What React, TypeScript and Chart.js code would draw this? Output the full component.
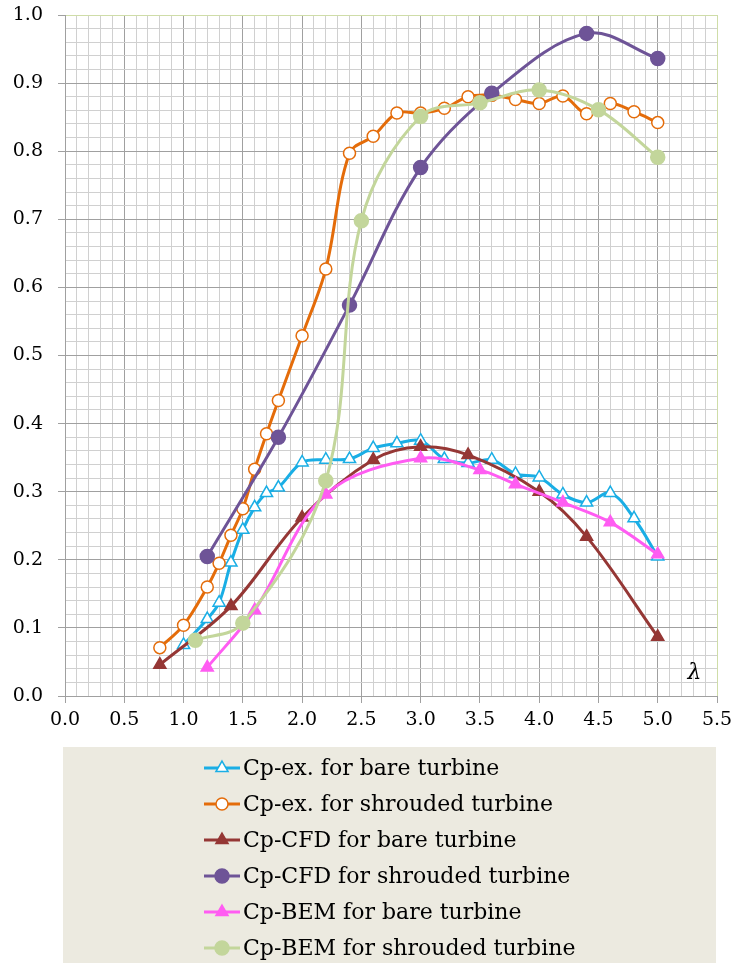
import React, { useEffect, useRef } from 'react';
import { Chart, registerables } from 'chart.js';

Chart.register(...registerables);

// ---- data ----
const exBareX = [1.0, 1.2, 1.3, 1.4, 1.5, 1.6, 1.7, 1.8, 2.0, 2.2, 2.4, 2.6, 2.8, 3.0, 3.2, 3.4, 3.6, 3.8, 4.0, 4.2, 4.4, 4.6, 4.8, 5.0];
const exBareY = [0.075, 0.113, 0.137, 0.196, 0.244, 0.277, 0.298, 0.306, 0.343, 0.347, 0.348, 0.364, 0.371, 0.375, 0.348, 0.342, 0.347, 0.326, 0.321, 0.296, 0.284, 0.298, 0.261, 0.205];

const exShrX = [0.8, 1.0, 1.2, 1.3, 1.4, 1.5, 1.6, 1.7, 1.8, 2.0, 2.2, 2.4, 2.6, 2.8, 3.0, 3.2, 3.4, 3.6, 3.8, 4.0, 4.2, 4.4, 4.6, 4.8, 5.0];
const exShrY = [0.071, 0.104, 0.160, 0.195, 0.236, 0.275, 0.333, 0.385, 0.434, 0.529, 0.627, 0.797, 0.822, 0.856, 0.856, 0.863, 0.880, 0.882, 0.876, 0.870, 0.881, 0.855, 0.870, 0.858, 0.842];

const cfdBareX = [0.8, 1.4, 2.0, 2.6, 3.0, 3.4, 4.0, 4.4, 5.0];
const cfdBareY = [0.046, 0.132, 0.262, 0.347, 0.366, 0.354, 0.300, 0.234, 0.087];

const cfdShrX = [1.2, 1.8, 2.4, 3.0, 3.6, 4.4, 5.0];
const cfdShrY = [0.205, 0.380, 0.574, 0.776, 0.885, 0.973, 0.936];

const bemBareX = [1.2, 1.6, 2.2, 3.0, 3.5, 3.8, 4.2, 4.6, 5.0];
const bemBareY = [0.042, 0.126, 0.296, 0.349, 0.332, 0.311, 0.284, 0.255, 0.208];

const bemShrX = [1.1, 1.5, 2.2, 2.5, 3.0, 3.5, 4.0, 4.5, 5.0];
const bemShrY = [0.082, 0.107, 0.316, 0.698, 0.851, 0.871, 0.890, 0.861, 0.791];

const seriesNames = [
  'Cp-ex. for bare turbine',
  'Cp-ex. for shrouded turbine',
  'Cp-CFD for bare turbine',
  'Cp-CFD for shrouded turbine',
  'Cp-BEM for bare turbine',
  'Cp-BEM for shrouded turbine',
];

const xMin = 0;
const xMax = 5.5;
const yMin = 0;
const yMax = 1.0;
const axisLabel = 'λ';

// ---- styles ----
const colors = ['#1AAEE5', '#E46C0A', '#953735', '#6E5497', '#FF5CF2', '#C3D69B'];
const markerStyles = ['triangle', 'circle', 'triangle', 'circle', 'triangle', 'circle'];
const markerFills = ['#FFFFFF', '#FFFFFF', '#953735', '#6E5497', '#FF5CF2', '#C3D69B'];
const markerRadius = [7, 6, 7, 7, 7, 7];

const toPoints = (xs: number[], ys: number[]) => xs.map((x, i) => ({ x, y: ys[i] }));

const allX = [exBareX, exShrX, cfdBareX, cfdShrX, bemBareX, bemShrX];
const allY = [exBareY, exShrY, cfdBareY, cfdShrY, bemBareY, bemShrY];

const isMult = (v: number, step: number) => Math.abs(Math.round(v / step) - v / step) < 1e-6;

const MAJOR = '#A0A0A0';
const MINOR = '#D0D0D0';
const BORDER_GREEN = '#CFDDA8';

function drawMarker(ctx: CanvasRenderingContext2D, style: string, x: number, y: number, r: number, fill: string, stroke: string) {
  ctx.save();
  ctx.beginPath();
  if (style === 'circle') {
    ctx.arc(x, y, r, 0, Math.PI * 2);
  } else {
    for (let k = 0; k < 3; k++) {
      const a = (k * 2 * Math.PI) / 3;
      const px = x + Math.sin(a) * r;
      const py = y - Math.cos(a) * r;
      if (k === 0) ctx.moveTo(px, py);
      else ctx.lineTo(px, py);
    }
    ctx.closePath();
  }
  ctx.fillStyle = fill;
  ctx.fill();
  ctx.lineWidth = 1.5;
  ctx.strokeStyle = stroke;
  ctx.stroke();
  ctx.restore();
}

const legendPlugin = {
  id: 'customLegend',
  afterDraw(chart: any) {
    const ctx = chart.ctx as CanvasRenderingContext2D;
    ctx.save();
    ctx.fillStyle = '#ECEAE0';
    ctx.fillRect(63, 747, 653, 216);
    ctx.font = '22px "DejaVu Serif"';
    ctx.textBaseline = 'middle';
    ctx.textAlign = 'left';
    seriesNames.forEach((name, i) => {
      const y = 768 + i * 36;
      ctx.beginPath();
      ctx.moveTo(204, y);
      ctx.lineTo(240, y);
      ctx.lineWidth = 3;
      ctx.strokeStyle = colors[i];
      ctx.stroke();
      drawMarker(ctx, markerStyles[i], 222, y, markerRadius[i], markerFills[i], colors[i]);
      ctx.fillStyle = '#000000';
      ctx.fillText(name, 243, y + 1);
    });
    // lambda label inside the plot
    const xs = chart.scales.x;
    const ys = chart.scales.y;
    ctx.font = 'italic 22px "DejaVu Serif"';
    ctx.textAlign = 'center';
    ctx.fillStyle = '#000000';
    ctx.fillText(axisLabel, xs.getPixelForValue(5.31), ys.getPixelForValue(0.034));
    ctx.restore();
  },
};

export default function App() {
  const ref = useRef<HTMLCanvasElement | null>(null);

  useEffect(() => {
    if (!ref.current) return;
    const datasets = seriesNames.map((name, i) => ({
      label: name,
      data: toPoints(allX[i], allY[i]),
      borderColor: colors[i],
      backgroundColor: markerFills[i],
      pointBackgroundColor: markerFills[i],
      pointBorderColor: colors[i],
      pointBorderWidth: 1.5,
      pointStyle: markerStyles[i],
      pointRadius: markerRadius[i],
      borderWidth: 3,
      tension: 0.35,
      fill: false,
      order: 6 - i,
    }));

    const chart = new Chart(ref.current, {
      type: 'line',
      data: { datasets },
      options: {
        animation: false,
        responsive: false,
        maintainAspectRatio: false,
        layout: { padding: { top: 15, right: 14, bottom: 227, left: 0 } },
        plugins: {
          legend: { display: false },
          tooltip: { enabled: false },
        },
        scales: {
          x: {
            type: 'linear',
            min: xMin,
            max: xMax,
            afterFit: (s: any) => {
              s.height = 40;
              s.paddingLeft = 0;
              s.paddingRight = 0;
            },
            ticks: {
              stepSize: 0.1,
              autoSkip: false,
              maxRotation: 0,
              padding: 6,
              color: '#000000',
              font: { family: 'DejaVu Serif', size: 19 },
              callback: (v: any) => (isMult(Number(v), 0.5) ? Number(v).toFixed(1) : ''),
            },
            grid: {
              color: (c: any) => {
                const v = c.tick ? c.tick.value : 0;
                if (Math.abs(v - xMax) < 1e-6) return BORDER_GREEN;
                return isMult(v, 0.5) ? MAJOR : MINOR;
              },
              tickColor: (c: any) => (c.tick && isMult(c.tick.value, 0.5) ? MAJOR : 'rgba(0,0,0,0)'),
              tickLength: 7,
              lineWidth: 1,
            },
            border: { color: MAJOR, width: 1 },
          },
          y: {
            type: 'linear',
            min: yMin,
            max: yMax,
            afterFit: (s: any) => {
              s.width = 65;
              s.paddingTop = 0;
              s.paddingBottom = 0;
            },
            ticks: {
              stepSize: 0.02,
              autoSkip: false,
              padding: 15,
              color: '#000000',
              font: { family: 'DejaVu Serif', size: 19 },
              callback: (v: any) => (isMult(Number(v), 0.1) ? Number(v).toFixed(1) : ''),
            },
            grid: {
              color: (c: any) => {
                const v = c.tick ? c.tick.value : 0;
                if (Math.abs(v - yMax) < 1e-6) return BORDER_GREEN;
                return isMult(v, 0.1) ? MAJOR : MINOR;
              },
              tickColor: (c: any) => (c.tick && isMult(c.tick.value, 0.1) ? MAJOR : 'rgba(0,0,0,0)'),
              tickLength: 7,
              lineWidth: 1,
            },
            border: { color: MAJOR, width: 1 },
          },
        },
      },
      plugins: [legendPlugin],
    } as any);

    return () => chart.destroy();
  }, []);

  return (
    <div style={{ position: 'absolute', left: 0, top: 0, width: 731, height: 963, background: '#FFFFFF' }}>
      <canvas ref={ref} width={731} height={963} style={{ display: 'block', width: 731, height: 963 }} />
    </div>
  );
}
